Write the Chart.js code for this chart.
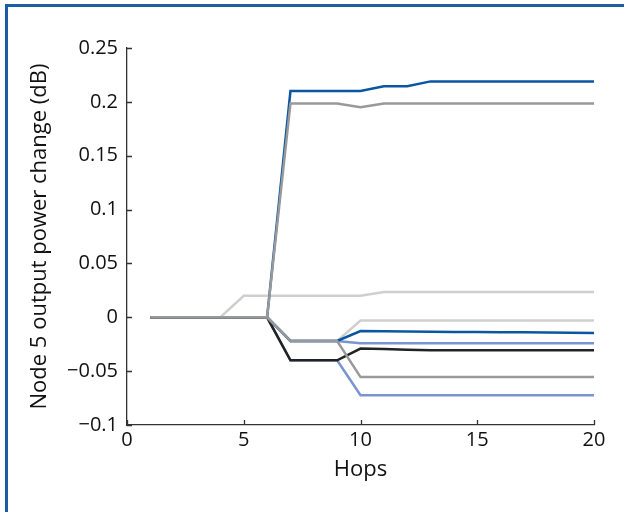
<!DOCTYPE html>
<html>
<head>
<meta charset="utf-8">
<script src="https://cdn.jsdelivr.net/npm/chart.js@4.4.1/dist/chart.umd.min.js"></script>
<style>
  html, body { margin: 0; padding: 0; background: #fff; }
  #wrap { position: relative; width: 624px; height: 512px; overflow: hidden; }
  #frame { position: absolute; left: 5px; top: 4px; width: 700px; height: 600px;
           border-top: 3px solid #1b5ca7; border-left: 3px solid #1b5ca7; pointer-events: none; }
  canvas { position: absolute; left: 0; top: 0; }
</style>
</head>
<body>
<div id="wrap">
  <canvas id="c" width="624" height="512"></canvas>
  <div id="frame"></div>
</div>
<script>
const hops = [1,2,3,4,5,6,7,8,9,10,11,12,13,14,15,16,17,18,19,20];
const yTicks = [-0.1,-0.05,0,0.05,0.1,0.15,0.2,0.25];
const xTicks = [0,5,10,15,20];

const grayLow   = [0,0,0,0,0,0,-0.022,-0.022,-0.022,-0.0555,-0.0555,-0.0555,-0.0555,-0.0555,-0.0555,-0.0555,-0.0555,-0.0555,-0.0555,-0.0555];
const grayHigh  = [0,0,0,0,0,0,0.1985,0.1985,0.1985,0.195,0.1985,0.1985,0.1985,0.1985,0.1985,0.1985,0.1985,0.1985,0.1985,0.1985];
const black     = [0,0,0,0,0,0,-0.04,-0.04,-0.04,-0.029,-0.0295,-0.0302,-0.0306,-0.0306,-0.0306,-0.0306,-0.0306,-0.0306,-0.0306,-0.0306];
const blueHigh  = [0,0,0,0,0,0,0.21,0.21,0.21,0.21,0.2145,0.2145,0.219,0.219,0.219,0.219,0.219,0.219,0.219,0.219];
const blueLow   = [0,0,0,0,0,0,-0.022,-0.022,-0.022,-0.0128,-0.013,-0.0132,-0.0134,-0.0136,-0.0137,-0.0139,-0.014,-0.0142,-0.0144,-0.0146];
const lblue     = [0,0,0,0,0,0,-0.022,-0.022,-0.022,-0.024,-0.024,-0.024,-0.024,-0.024,-0.024,-0.024,-0.024,-0.024,-0.024,-0.024];
const lblueLow  = [0,0,0,0,0,0,-0.04,-0.04,-0.04,-0.0724,-0.0724,-0.0724,-0.0724,-0.0724,-0.0724,-0.0724,-0.0724,-0.0724,-0.0724,-0.0724];
const lgrayHigh = [0,0,0,0,0.02,0.02,0.02,0.02,0.02,0.02,0.0235,0.0235,0.0235,0.0235,0.0235,0.0235,0.0235,0.0235,0.0235,0.0235];
const lgrayLow  = [0,0,0,0,0,0,-0.022,-0.022,-0.022,-0.003,-0.003,-0.003,-0.003,-0.003,-0.003,-0.003,-0.003,-0.003,-0.003,-0.003];

const series = [
  { name: 'gray low',   values: grayLow,   color: '#999999' },
  { name: 'gray high',  values: grayHigh,  color: '#999999' },
  { name: 'black',      values: black,     color: '#222222' },
  { name: 'blue high',  values: blueHigh,  color: '#0b56a2' },
  { name: 'blue low',   values: blueLow,   color: '#0b56a2' },
  { name: 'lblue',      values: lblue,     color: '#7a94cf' },
  { name: 'lblue low',  values: lblueLow,  color: '#7a94cf' },
  { name: 'lgray high', values: lgrayHigh, color: '#cfcfcf' },
  { name: 'lgray low',  values: lgrayLow,  color: '#cfcfcf' }
];

const TICK_FONT = { family: "'Open Sans', 'Noto Sans', sans-serif", size: 20 };
const TITLE_FONT = { family: "'Open Sans', 'Noto Sans', sans-serif", size: 22 };
const AXIS = '#333333';

function fmt(v) {
  const s = String(parseFloat(Number(v).toFixed(3)));
  return s.replace('-', '\u2212');
}

const innerTicks = {
  id: 'innerTicks',
  afterDraw(chart) {
    const { ctx, scales: { x, y }, chartArea: a } = chart;
    ctx.save();
    ctx.strokeStyle = AXIS;
    ctx.lineWidth = 1.3;
    ctx.beginPath();
    xTicks.forEach(t => {
      const px = Math.round(x.getPixelForValue(t)) + 0.5;
      ctx.moveTo(px, a.bottom); ctx.lineTo(px, a.bottom - 5);
    });
    yTicks.forEach(t => {
      const py = Math.round(y.getPixelForValue(t)) + 0.5;
      ctx.moveTo(a.left, py); ctx.lineTo(a.left + 5, py);
    });
    ctx.stroke();
    ctx.restore();
  }
};

new Chart(document.getElementById('c'), {
  type: 'line',
  data: {
    datasets: series.map(s => ({
      label: s.name,
      data: hops.map((h, i) => ({ x: h, y: s.values[i] })),
      borderColor: s.color,
      borderWidth: 2.5,
      pointRadius: 0,
      tension: 0,
      fill: false
    }))
  },
  options: {
    responsive: false,
    animation: false,
    events: [],
    layout: { padding: { left: 0, top: 48, right: 30, bottom: 0 } },
    plugins: { legend: { display: false }, tooltip: { enabled: false } },
    scales: {
      x: {
        type: 'linear', min: 0, max: 20,
        afterBuildTicks: s => { s.ticks = xTicks.map(v => ({ value: v })); },
        afterFit: s => { s.height = 87; },
        grid: { display: true, drawOnChartArea: false, drawTicks: false },
        border: { display: true, color: AXIS, width: 1.3 },
        ticks: { color: '#111', font: TICK_FONT, padding: 3, maxRotation: 0, autoSkip: false, callback: v => fmt(v) },
        title: { display: true, text: 'Hops', color: '#111', font: TITLE_FONT, padding: { top: 0, bottom: 29 } }
      },
      y: {
        type: 'linear', min: -0.1, max: 0.25,
        afterBuildTicks: s => { s.ticks = yTicks.map(v => ({ value: v })); },
        afterFit: s => { s.width = 127; },
        grid: { display: true, drawOnChartArea: false, drawTicks: false },
        border: { display: true, color: AXIS, width: 1.3 },
        ticks: { color: '#111', font: TICK_FONT, padding: 9, autoSkip: false, callback: v => fmt(v) },
        title: { display: true, text: 'Node 5 output power change (dB)', color: '#111', font: TITLE_FONT, padding: { top: 27, bottom: 0 } }
      }
    }
  },
  plugins: [innerTicks]
});
</script>
</body>
</html>
